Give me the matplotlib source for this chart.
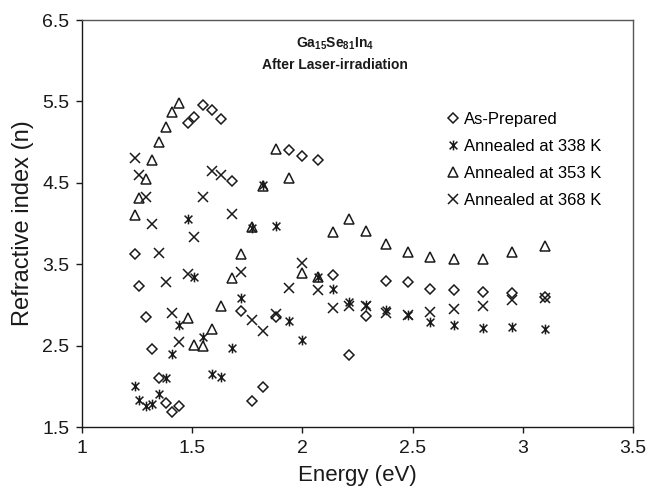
import matplotlib
matplotlib.use("Agg")
import matplotlib.pyplot as plt
from matplotlib.path import Path

plt.rcParams["font.family"] = ["Liberation Sans", "DejaVu Sans"]
plt.rcParams["mathtext.fontset"] = "custom"
plt.rcParams["mathtext.rm"] = "Liberation Sans"
plt.rcParams["mathtext.bf"] = "Liberation Sans:bold"

INK = "#1a1a1a"

# photon energy (eV), shared by all four series
energy = [1.24, 1.26, 1.29, 1.32, 1.35, 1.38, 1.41, 1.44, 1.48, 1.51,
          1.55, 1.59, 1.63, 1.68, 1.72, 1.77, 1.82, 1.88, 1.94, 2.00,
          2.07, 2.14, 2.21, 2.29, 2.38, 2.48, 2.58, 2.69, 2.82, 2.95, 3.10]

as_prepared = [3.63, 3.23, 2.85, 2.46, 2.10, 1.80, 1.68, 1.76, 5.24, 5.31,
               5.45, 5.40, 5.29, 4.52, 2.92, 1.82, 1.99, 2.85, 4.90, 4.83,
               4.78, 3.37, 2.39, 2.86, 3.29, 3.28, 3.20, 3.18, 3.16, 3.15, 3.10]
ann_338 = [2.00, 1.83, 1.76, 1.78, 1.90, 2.10, 2.40, 2.75, 4.05, 3.34,
           2.60, 2.15, 2.12, 2.47, 3.09, 3.94, 4.47, 3.97, 2.80, 2.57,
           3.34, 3.20, 3.04, 3.00, 2.94, 2.88, 2.79, 2.75, 2.72, 2.73, 2.70]
ann_353 = [4.11, 4.31, 4.55, 4.78, 5.00, 5.18, 5.37, 5.48, 2.84, 2.51,
           2.50, 2.70, 2.99, 3.33, 3.63, 3.96, 4.46, 4.92, 4.56, 3.39,
           3.34, 3.89, 4.05, 3.91, 3.75, 3.65, 3.59, 3.56, 3.56, 3.65, 3.72]
ann_368 = [4.81, 4.60, 4.33, 3.99, 3.64, 3.28, 2.90, 2.55, 3.38, 3.84,
           4.32, 4.64, 4.59, 4.12, 3.40, 2.82, 2.68, 2.89, 3.21, 3.52,
           3.18, 2.96, 2.99, 2.99, 2.90, 2.88, 2.91, 2.95, 2.99, 3.06, 3.08]

# Excel-style star: an x with a vertical bar through it
STAR = Path([(-1, -1), (1, 1), (-1, 1), (1, -1), (0, -1.25), (0, 1.25)],
            [Path.MOVETO, Path.LINETO, Path.MOVETO, Path.LINETO,
             Path.MOVETO, Path.LINETO])

SERIES = [("As-Prepared", as_prepared, "D", 5.0),
          ("Annealed at 338 K", ann_338, STAR, 7.0),
          ("Annealed at 353 K", ann_353, "^", 7.0),
          ("Annealed at 368 K", ann_368, "x", 7.0)]

fig = plt.figure(figsize=(6.49, 4.92), dpi=100)
ax = fig.add_axes([0.1263, 0.1321, 0.8490, 0.8272])

for label, vals, mk, ms in SERIES:
    ax.plot(energy, vals, ls="none", marker=mk, ms=ms, mfc="none",
            mec=INK, mew=1.1, label=label)

ax.set_xlim(1, 3.5)
ax.set_ylim(1.5, 6.5)
ax.set_xticks([1, 1.5, 2, 2.5, 3, 3.5])
ax.set_xticklabels(["1", "1.5", "2", "2.5", "3", "3.5"])
ax.set_yticks([1.5, 2.5, 3.5, 4.5, 5.5, 6.5])
ax.tick_params(direction="out", length=4, width=1, labelsize=14, colors=INK, pad=5)
for sp in ax.spines.values():
    sp.set_color("#555555")
    sp.set_linewidth(1.0)
ax.spines["left"].set_color(INK)
ax.spines["bottom"].set_color(INK)

ax.set_xlabel("Energy (eV)", fontsize=16, color=INK, labelpad=6)
ax.set_ylabel("Refractive index (n)", fontsize=17, color=INK, labelpad=6)

ax.text(0.459, 0.941, r"$\mathbf{Ga_{15}Se_{81}In_{4}}$", transform=ax.transAxes,
        ha="center", va="center", fontsize=10, color=INK)
ax.text(0.459, 0.889, "After Laser-irradiation", transform=ax.transAxes,
        ha="center", va="center", fontsize=10, fontweight="bold", color=INK)

ax.legend(loc="upper left", bbox_to_anchor=(0.658, 0.774), frameon=False,
          fontsize=12, handlelength=1.0, handletextpad=0.15, borderpad=0,
          labelspacing=0.71, borderaxespad=0)

fig.savefig("out.png", dpi=100)
